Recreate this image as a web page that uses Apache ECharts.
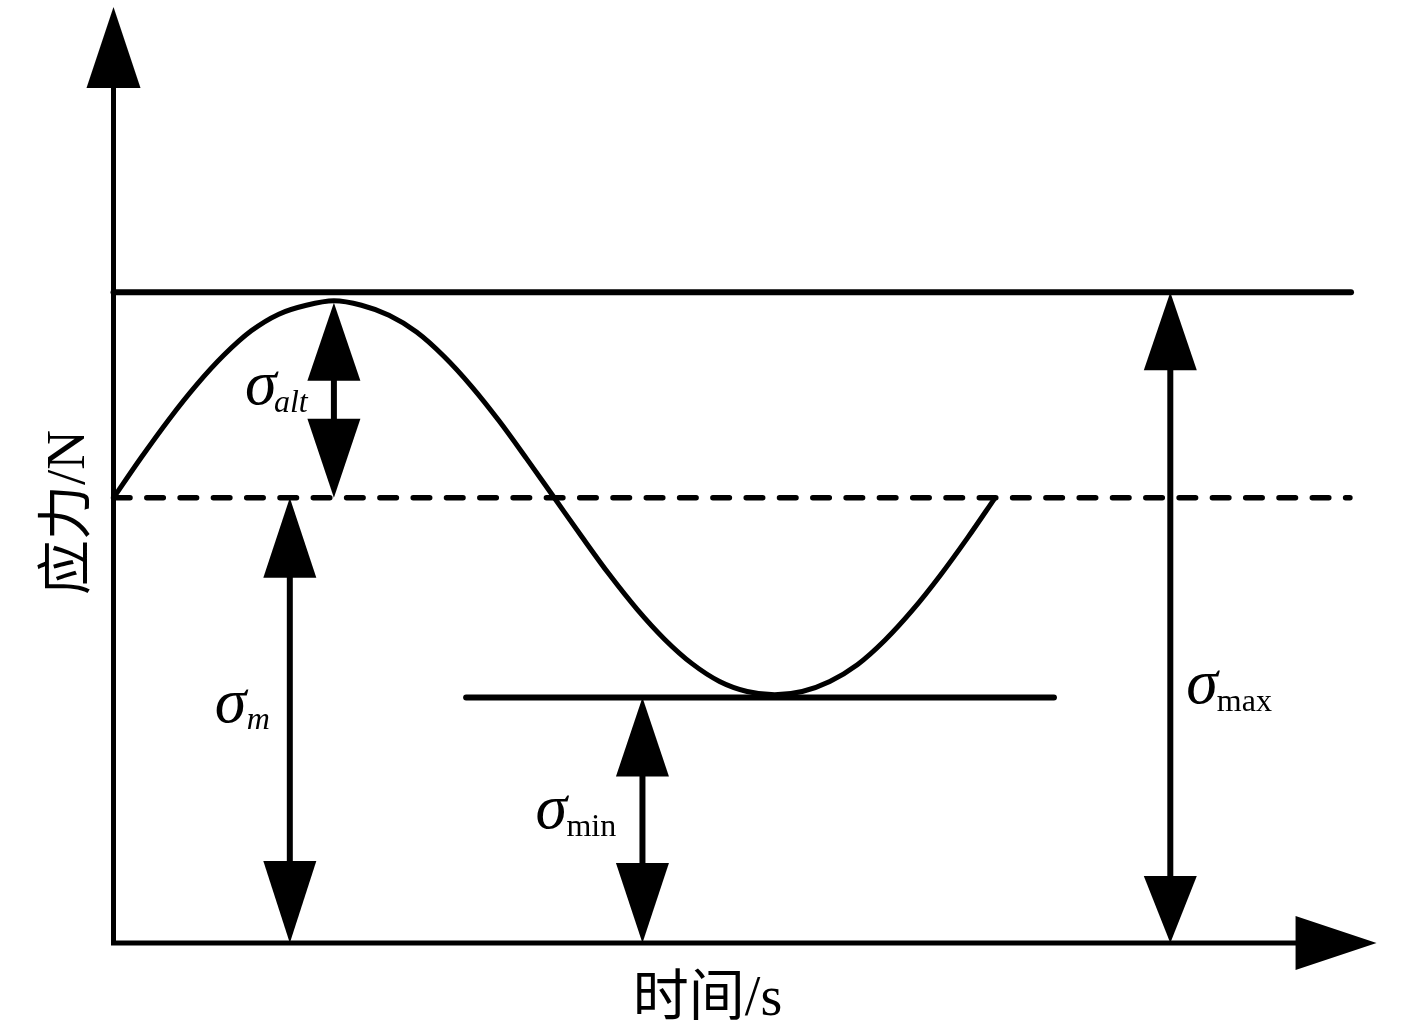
<!DOCTYPE html>
<html><head><meta charset="utf-8">
<script src="https://cdn.jsdelivr.net/npm/echarts@6/dist/echarts.min.js"></script>
<style>html,body{margin:0;padding:0;background:#fff;}#c{width:1417px;height:1032px;}</style>
</head><body><div id="c"></div>
<script>
// ---- data (schematic units: time in quarter-periods, stress in arbitrary units) ----
const curveTime = [0,0.125,0.25,0.375,0.5,0.625,0.75,0.875,1.0,1.125,1.25,1.375,1.5,1.625,1.75,1.875,2.0,
  2.125,2.25,2.375,2.5,2.625,2.75,2.875,3.0,3.125,3.25,3.375,3.5,3.625,3.75,3.875,4.0];
const curveStress = [200,218,235,250.5,264,275,282.5,286.5,288.5,286.5,282,274.5,263.5,250,234.5,217.5,200,
  182.5,165.5,150,136.5,125.5,117.5,113,111.5,113,117.5,125,136,149.5,165,182,200];
const sigmaMaxLevel = 292.3;
const sigmaMeanLevel = 200;
const sigmaMinLevel = 110.3;
const maxLineX = [0, 5.615];
const meanLineX = [0, 5.61];
const minLineX = [1.6, 4.267];
const arrowX = [1.0, 0.8, 2.4, 4.795];
const arrowFrom = [287.6, 200, 110.3, 292.3];
const arrowTo = [200, 0, 0, 0];
const labelMain = ['σ', 'σ', 'σ', 'σ'];
const labelSub = ['alt', 'm', 'min', 'max'];
const axisEnd = [5.731, 420.5];
const axisTitles = ['时间/s', '应力/N'];

// ---- styles ----
const INK = '#000';
const SERIF = "'Liberation Serif','Times New Roman',serif";
const TITLE_FONT = "'Liberation Serif','Noto Sans CJK SC',serif";
const subItalic = [true, true, false, false];
// label offsets (px) relative to shaft x and arrow mid-y: [sigmaDx, sigmaDy, subDx, subDy]
const labelOffsets = [[-89, -13, -60, 3], [-75, -15, -43, 0], [-107, -9.5, -76, 7], [16, 68, 46.5, 84.5]];
const headLen = [[78, 79], [80, 82], [79, 80], [78, 67]];
const HEAD_HW = 26.5;

const chart = echarts.init(document.getElementById('c'), null, {renderer: 'canvas'});

function hLine(xs, y) { return [[xs[0], y], [xs[1], y]]; }

// smooth curve through the read points (Catmull-Rom -> cubic Bezier), positions from the axes' scales
function renderCurve(params, api) {
  if (params.dataIndex !== 0) return null;
  const pts = curveTime.map((t, k) => api.coord([t, curveStress[k]]));
  const n = pts.length;
  let d = 'M' + pts[0][0] + ' ' + pts[0][1];
  for (let k = 0; k < n - 1; k++) {
    const p1 = pts[k], p2 = pts[k + 1];
    const p0 = k > 0 ? pts[k - 1] : [2 * p1[0] - p2[0], 2 * p1[1] - p2[1]];
    const p3 = k + 2 < n ? pts[k + 2] : [2 * p2[0] - p1[0], 2 * p2[1] - p1[1]];
    const c1 = [p1[0] + (p2[0] - p0[0]) / 6, p1[1] + (p2[1] - p0[1]) / 6];
    const c2 = [p2[0] - (p3[0] - p1[0]) / 6, p2[1] - (p3[1] - p1[1]) / 6];
    d += ' C' + c1[0] + ' ' + c1[1] + ' ' + c2[0] + ' ' + c2[1] + ' ' + p2[0] + ' ' + p2[1];
  }
  return {type: 'path', shape: {pathData: d}, style: {stroke: INK, lineWidth: 5, fill: null, lineJoin: 'round'}};
}

function renderArrow(params, api) {
  const i = params.dataIndex;
  const x = api.value(0);
  const p1 = api.coord([x, api.value(1)]);
  const p2 = api.coord([x, api.value(2)]);
  const hT = headLen[i][0], hB = headLen[i][1];
  const midY = (p1[1] + p2[1]) / 2;
  const off = labelOffsets[i];
  return {
    type: 'group',
    children: [
      {type: 'line', shape: {x1: p1[0], y1: p1[1] + hT - 2, x2: p2[0], y2: p2[1] - hB + 2},
        style: {stroke: INK, lineWidth: 6}},
      {type: 'polygon', shape: {points: [[p1[0], p1[1]], [p1[0] - HEAD_HW, p1[1] + hT], [p1[0] + HEAD_HW, p1[1] + hT]]},
        style: {fill: INK}},
      {type: 'polygon', shape: {points: [[p2[0], p2[1]], [p2[0] - HEAD_HW, p2[1] - hB], [p2[0] + HEAD_HW, p2[1] - hB]]},
        style: {fill: INK}},
      {type: 'text', x: p1[0] + off[0], y: midY + off[1],
        style: {text: labelMain[i], fill: INK, font: 'italic 64px ' + SERIF, align: 'left', verticalAlign: 'middle'}},
      {type: 'text', x: p1[0] + off[2], y: midY + off[3],
        style: {text: labelSub[i], fill: INK, font: (subItalic[i] ? 'italic ' : '') + '32px ' + SERIF, align: 'left', verticalAlign: 'middle'}}
    ]
  };
}

function renderAxes(params, api) {
  const o = api.coord([0, 0]);
  const xt = api.coord([api.value(0), 0]);
  const yt = api.coord([0, api.value(1)]);
  const L = 81, W = 27;
  return {
    type: 'group',
    children: [
      {type: 'polyline', shape: {points: [[yt[0], yt[1] + L - 2], [o[0], o[1]], [xt[0] - L + 2, xt[1]]]},
        style: {stroke: INK, lineWidth: 5, lineJoin: 'miter', fill: null}},
      {type: 'polygon', shape: {points: [[yt[0], yt[1]], [yt[0] - W, yt[1] + L], [yt[0] + W, yt[1] + L]]}, style: {fill: INK}},
      {type: 'polygon', shape: {points: [[xt[0], xt[1]], [xt[0] - L, xt[1] - W], [xt[0] - L, xt[1] + W]]}, style: {fill: INK}},
      {type: 'text', x: (o[0] + xt[0] - L) / 2 + 3, y: o[1] + 57,
        style: {text: axisTitles[0], fill: INK, font: '56px ' + TITLE_FONT, align: 'center', verticalAlign: 'middle'}},
      {type: 'text', x: o[0] - 44, y: (o[1] + yt[1] + L) / 2 - 3, rotation: Math.PI / 2,
        style: {text: axisTitles[1], fill: INK, font: '55px ' + TITLE_FONT, align: 'center', verticalAlign: 'middle'}}
    ]
  };
}

const lineBase = {type: 'line', symbol: 'none', clip: false, silent: true, animation: false};

chart.setOption({
  animation: false,
  backgroundColor: '#fff',
  grid: {left: 113.5, right: 25.2, top: 86, bottom: 89},
  xAxis: {type: 'value', min: 0, max: 5.8, show: false},
  yAxis: {type: 'value', min: 0, max: 385, show: false},
  series: [
    Object.assign({}, lineBase, {name: 'max', data: hLine(maxLineX, sigmaMaxLevel),
      lineStyle: {color: INK, width: 6, cap: 'round'}}),
    Object.assign({}, lineBase, {name: 'mean', data: hLine(meanLineX, sigmaMeanLevel),
      lineStyle: {color: INK, width: 5.5, cap: 'round', type: [16.5, 16.8], dashOffset: 0}}),
    Object.assign({}, lineBase, {name: 'min', data: hLine(minLineX, sigmaMinLevel),
      lineStyle: {color: INK, width: 6, cap: 'round'}}),
    {type: 'custom', name: 'stress', clip: false, silent: true, renderItem: renderCurve,
      encode: {x: 0, y: 1},
      data: curveTime.map((t, k) => [t, curveStress[k]]), z: 3},
    {type: 'custom', name: 'arrows', clip: false, silent: true, renderItem: renderArrow,
      encode: {x: 0, y: [1, 2]},
      data: arrowX.map((x, k) => [x, arrowFrom[k], arrowTo[k]]), z: 5},
    {type: 'custom', name: 'axes', clip: false, silent: true, renderItem: renderAxes,
      encode: {x: 0, y: 1},
      data: [[axisEnd[0], axisEnd[1]]], z: 6}
  ]
});
</script>
</body></html>
